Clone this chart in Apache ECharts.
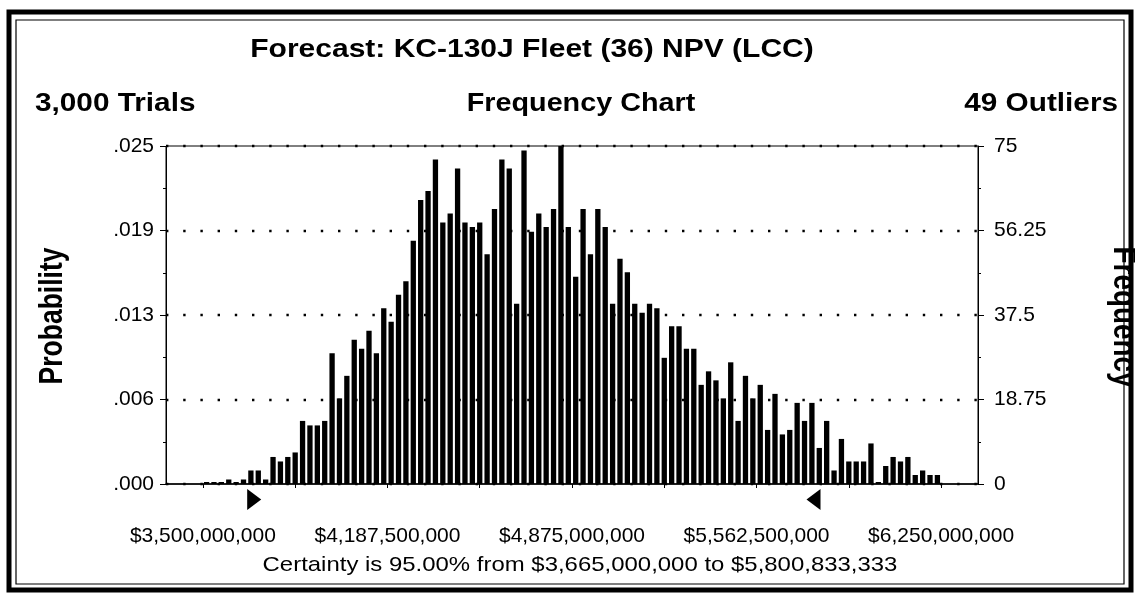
<!DOCTYPE html>
<html><head><meta charset="utf-8">
<script src="https://cdn.jsdelivr.net/npm/echarts@6/dist/echarts.min.js"></script>
<style>html,body{margin:0;padding:0;background:#fff}#c{width:1135px;height:596px}</style>
</head><body><div id="c"></div>
<script>
// ---------- data ----------
const binStart = 3500000000;
const binWidth = 27500000;
const frequencies = [
  0, 0, 0, 1, 0, 1, 3, 3, 1, 6,
  5, 6, 7, 14, 13, 13, 14, 29, 19, 24,
  32, 30, 34, 29, 39, 36, 42, 45, 54, 63,
  65, 72, 58, 60, 70, 58, 57, 58, 51, 61,
  72, 70, 40, 74, 56, 60, 57, 61, 75, 57,
  46, 61, 51, 61, 57, 40, 50, 47, 40, 38,
  40, 39, 28, 35, 35, 30, 30, 22, 25, 23,
  19, 27, 14, 24, 19, 22, 12, 20, 11, 12,
  18, 14, 18, 8, 14, 3, 10, 5, 5, 5,
  9, 0, 4, 6, 5, 6, 2, 3, 2, 2
];
const xTickValues = [3500000000, 4187500000, 4875000000, 5562500000, 6250000000];
const xTickLabels = ['$3,500,000,000', '$4,187,500,000', '$4,875,000,000', '$5,562,500,000', '$6,250,000,000'];
const probTickLabels = ['.000', '.006', '.013', '.019', '.025'];
const freqTickLabels = ['0', '18.75', '37.5', '56.25', '75'];
const freqMax = 75;
const freqStep = 18.75;
const certaintyRange = [3665000000, 5800833333];
const titleText = 'Forecast: KC-130J Fleet (36) NPV (LCC)';
const trialsText = '3,000 Trials';
const chartKindText = 'Frequency Chart';
const outliersText = '49 Outliers';
const certaintyText = 'Certainty is 95.00% from $3,665,000,000 to $5,800,833,333';
const leftAxisName = 'Probability';
const rightAxisName = 'Frequency';

// ---------- chart ----------
const FONT = "'Liberation Sans', Arial, Helvetica, sans-serif";
const xStep = xTickValues[1] - xTickValues[0];
const xPad = xStep * 0.2;
const xMinorTicks = [];
for (let i = 0; i < xTickValues.length; i++) {
  xMinorTicks.push(xTickValues[i]);
  if (i < xTickValues.length - 1) xMinorTicks.push((xTickValues[i] + xTickValues[i + 1]) / 2);
}
const barData = frequencies.map((f, i) => [binStart + (i + 0.5) * binWidth, f]);

const chart = echarts.init(document.getElementById('c'), null, {renderer: 'canvas'});

function yAxisCfg(pos, labels, showSplit, margin) {
  return {
    type: 'value', position: pos, min: 0, max: freqMax, interval: freqStep,
    axisLine: {show: true, lineStyle: {color: '#000', width: 1}},
    axisTick: {show: true, length: 6, lineStyle: {color: '#000'}},
    minorTick: {show: true, splitNumber: 2, length: 3, lineStyle: {color: '#000'}},
    axisLabel: {
      color: '#000', fontFamily: FONT, fontSize: 21, margin: margin,
      formatter: v => labels[Math.round(v / freqStep)]
    },
    splitLine: {show: showSplit, lineStyle: {color: '#000', width: 2.4, type: [2.4, 14.8]}}
  };
}

chart.setOption({
  animation: false,
  backgroundColor: '#fff',
  grid: {left: 166, right: 157, top: 146, bottom: 112, show: true, borderColor: '#000', borderWidth: 1},
  xAxis: {
    type: 'value', min: xTickValues[0] - xPad, max: xTickValues[xTickValues.length - 1] + xPad,
    axisLine: {show: true, onZero: false, lineStyle: {color: '#000', width: 1.5}},
    axisTick: {show: true, customValues: xMinorTicks, length: 4, lineStyle: {color: '#000'}},
    axisLabel: {
      show: true, customValues: xTickValues, color: '#000', fontFamily: FONT, fontSize: 21, margin: 42,
      formatter: v => xTickLabels[xTickValues.indexOf(v)]
    },
    splitLine: {show: false}
  },
  yAxis: [yAxisCfg('left', probTickLabels, true, 12), yAxisCfg('right', freqTickLabels, false, 16)],
  series: [{
    type: 'bar', xAxisIndex: 0, yAxisIndex: 1, data: barData,
    barWidth: 5.3, barMinHeight: 2,
    itemStyle: {color: '#000'}
  }]
});

const p0 = chart.convertToPixel({xAxisIndex: 0, yAxisIndex: 1}, [certaintyRange[0], 0]);
const p1 = chart.convertToPixel({xAxisIndex: 0, yAxisIndex: 1}, [certaintyRange[1], 0]);
const triTop = p0[1] + 5, triBot = p0[1] + 26, triMid = (triTop + triBot) / 2, triW = 14;

function label(text, x, y, font, align, sx) {
  return {type: 'text', x: x, y: y, scaleX: sx, style: {text: text, font: font, fill: '#000', align: align, verticalAlign: 'middle'}, silent: true};
}

chart.setOption({
  graphic: [
    {type: 'rect', shape: {x: 9, y: 12, width: 1122, height: 578}, style: {fill: null, stroke: '#000', lineWidth: 5}, silent: true},
    {type: 'rect', shape: {x: 16, y: 20, width: 1108, height: 564}, style: {fill: null, stroke: '#000', lineWidth: 1.2}, silent: true},
    label(titleText, 532, 50, 'bold 25px ' + FONT, 'center', 1.2),
    label(trialsText, 35, 104, 'bold 25px ' + FONT, 'left', 1.19),
    label(chartKindText, 581, 104, 'bold 25px ' + FONT, 'center', 1.15),
    label(outliersText, 1118, 104, 'bold 25px ' + FONT, 'right', 1.19),
    label(certaintyText, 580, 565, '21px ' + FONT, 'center', 1.14),
    {type: 'text', x: 53, y: 316, rotation: Math.PI / 2, scaleX: 0.78,
      style: {text: leftAxisName, font: 'bold 34px ' + FONT, fill: '#000', align: 'center', verticalAlign: 'middle'}, silent: true},
    {type: 'text', x: 1123, y: 317, rotation: -Math.PI / 2, scaleX: 0.82,
      style: {text: rightAxisName, font: 'bold 34px ' + FONT, fill: '#000', align: 'center', verticalAlign: 'middle'}, silent: true},
    {type: 'polygon', shape: {points: [[p0[0], triTop], [p0[0], triBot], [p0[0] + triW, triMid]]}, style: {fill: '#000'}},
    {type: 'polygon', shape: {points: [[p1[0], triTop], [p1[0], triBot], [p1[0] - triW, triMid]]}, style: {fill: '#000'}}
  ]
});
</script></body></html>
